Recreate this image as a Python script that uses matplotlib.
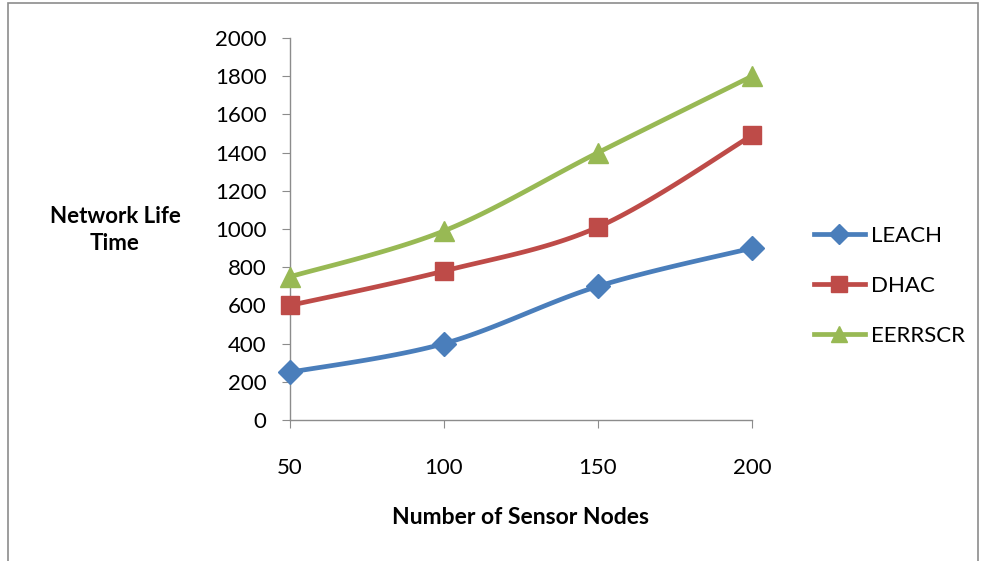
import numpy as np
import matplotlib
matplotlib.use("Agg")
import matplotlib.pyplot as plt
from matplotlib.patches import Rectangle

nodes = ["50", "100", "150", "200"]
leach = [250, 400, 700, 900]
dhac = [600, 780, 1010, 1490]
eerrscr = [750, 990, 1400, 1800]

plt.rcParams['font.family'] = ['Lato', 'DejaVu Sans']


def smooth(xs, ys, n=30):
    # Excel-style smoothed line (Catmull-Rom through the points)
    xs = np.asarray(xs, float)
    ys = np.asarray(ys, float)
    px = np.concatenate([[xs[0]], xs, [xs[-1]]])
    py = np.concatenate([[ys[0]], ys, [ys[-1]]])
    ox, oy = [], []
    for i in range(1, len(px) - 2):
        t = np.linspace(0, 1, n)
        for p, out in ((px, ox), (py, oy)):
            p0, p1, p2, p3 = p[i - 1], p[i], p[i + 1], p[i + 2]
            c = 0.5 * ((2 * p1) + (-p0 + p2) * t + (2 * p0 - 5 * p1 + 4 * p2 - p3) * t ** 2
                       + (-p0 + 3 * p1 - 3 * p2 + p3) * t ** 3)
            out.extend(c)
    return ox, oy


fig = plt.figure(figsize=(9.85, 5.61), dpi=100)
ax = fig.add_axes([290 / 985, 1 - 420 / 561, 462 / 985, 382 / 561])

x = np.arange(len(nodes))
series = [
    (leach, "LEACH", "#4A7EBB", "D", 12),
    (dhac, "DHAC", "#BE4B48", "s", 13),
    (eerrscr, "EERRSCR", "#98B954", "^", 14),
]
for vals, name, col, mk, ms in series:
    sx, sy = smooth(x, vals)
    ax.plot(sx, sy, color=col, lw=3.4, solid_capstyle='round', zorder=3, clip_on=False)
    ax.plot(x, vals, linestyle='none', marker=mk, color=col, markersize=ms, zorder=4,
            clip_on=False)
    ax.plot([], [], color=col, lw=3.4, marker=mk, markersize=ms * 0.85, label=name)

ax.set_xlim(0, 3)
ax.set_ylim(0, 2000)
ax.set_yticks(np.arange(0, 2001, 200))
ax.set_xticks(x)
ax.set_xticklabels(nodes)

for s in ['top', 'right']:
    ax.spines[s].set_visible(False)
for s in ['left', 'bottom']:
    ax.spines[s].set_color('#8c8c8c')
    ax.spines[s].set_linewidth(1)
ax.tick_params(axis='y', length=6, color='#8c8c8c', labelsize=16, pad=11)
ax.tick_params(axis='x', length=6, color='#8c8c8c', labelsize=16, pad=21)
ax.patch.set_alpha(0)

fig.text(115 / 985, 1 - 230 / 561, "Network Life\nTime", ha='center', va='center',
         fontsize=16, fontweight='bold', linespacing=1.4)
fig.text(521 / 985, 1 - 517 / 561, "Number of Sensor Nodes", ha='center', va='center',
         fontsize=16.5, fontweight='bold')

fig.legend(loc='center left', bbox_to_anchor=(805 / 985, 1 - 286 / 561), frameon=False,
           fontsize=16, handlelength=2.3, handletextpad=0.25, labelspacing=1.35,
           numpoints=1, borderaxespad=0)

fig.patches.append(Rectangle((8 / 985, -0.02), 970 / 985, 1.02 - 3 / 561,
                             transform=fig.transFigure, fill=False,
                             edgecolor='#8c8c8c', lw=1.2))

fig.savefig("out.png", dpi=100)
